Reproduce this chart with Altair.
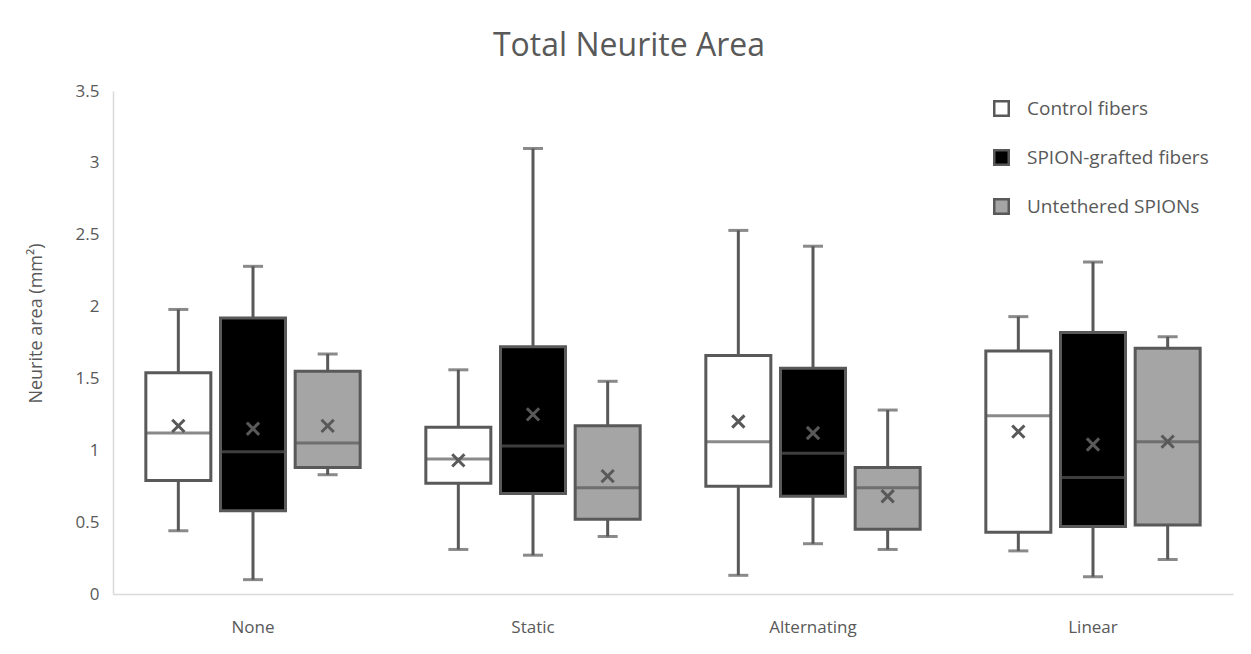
import altair as alt
import pandas as pd

FONT = "Open Sans"
GRAY = "#595959"
AXIS_GRAY = "#d9d9d9"

categories = ["None", "Static", "Alternating", "Linear"]
series = ["Control fibers", "SPION-grafted fibers", "Untethered SPIONs"]
fills = ["#ffffff", "#000000", "#a5a5a5"]

# per series, values for None, Static, Alternating, Linear
whisker_low = {
    "Control fibers": [0.44, 0.31, 0.13, 0.30],
    "SPION-grafted fibers": [0.10, 0.27, 0.35, 0.12],
    "Untethered SPIONs": [0.83, 0.40, 0.31, 0.24],
}
q1 = {
    "Control fibers": [0.79, 0.77, 0.75, 0.43],
    "SPION-grafted fibers": [0.58, 0.70, 0.68, 0.47],
    "Untethered SPIONs": [0.88, 0.52, 0.45, 0.48],
}
median = {
    "Control fibers": [1.12, 0.94, 1.06, 1.24],
    "SPION-grafted fibers": [0.99, 1.03, 0.98, 0.81],
    "Untethered SPIONs": [1.05, 0.74, 0.74, 1.06],
}
q3 = {
    "Control fibers": [1.54, 1.16, 1.66, 1.69],
    "SPION-grafted fibers": [1.92, 1.72, 1.57, 1.82],
    "Untethered SPIONs": [1.55, 1.17, 0.88, 1.71],
}
whisker_high = {
    "Control fibers": [1.98, 1.56, 2.53, 1.93],
    "SPION-grafted fibers": [2.28, 3.10, 2.42, 2.31],
    "Untethered SPIONs": [1.67, 1.48, 1.28, 1.79],
}
mean = {
    "Control fibers": [1.17, 0.93, 1.20, 1.13],
    "SPION-grafted fibers": [1.15, 1.25, 1.12, 1.04],
    "Untethered SPIONs": [1.17, 0.82, 0.68, 1.06],
}
y_ticks = [0, 0.5, 1, 1.5, 2, 2.5, 3, 3.5]

rows = []
for s in series:
    for i, c in enumerate(categories):
        rows.append({
            "category": c, "series": s,
            "low": whisker_low[s][i], "q1": q1[s][i], "median": median[s][i],
            "q3": q3[s][i], "high": whisker_high[s][i], "mean": mean[s][i],
        })
df = pd.DataFrame(rows)

x = alt.X("category:N", sort=categories,
          scale=alt.Scale(paddingInner=0.2, paddingOuter=0.1),
          axis=alt.Axis(title=None, labelAngle=0, labelFontSize=17, labelColor=GRAY,
                        labelFont=FONT, labelPadding=25, domainColor=AXIS_GRAY,
                        domainWidth=1.5, ticks=False))
xo = alt.XOffset("series:N", sort=series, scale=alt.Scale(paddingInner=0, paddingOuter=0))
yscale = alt.Scale(domain=[0, 3.5], nice=False)
yaxis = alt.Axis(values=y_ticks, format=".1~f", title="Neurite area (mm²)",
                 titleFontSize=18, titleColor=GRAY, titleFont=FONT, titleFontWeight="normal",
                 titlePadding=30, titleY=232, labelFontSize=17, labelColor=GRAY, labelFont=FONT,
                 labelPadding=14, ticks=False, grid=False, domainColor=AXIS_GRAY,
                 domainWidth=1.5)

base = alt.Chart(df)

whisk = base.mark_rule(color=GRAY, strokeWidth=3).encode(
    x=x, xOffset=xo, y=alt.Y("low:Q", scale=yscale, axis=yaxis), y2="high:Q")
cap_low = base.mark_tick(color=GRAY, size=20, thickness=3, orient="horizontal").encode(
    x=x, xOffset=xo, y=alt.Y("low:Q", scale=yscale))
cap_high = base.mark_tick(color=GRAY, size=20, thickness=3, orient="horizontal").encode(
    x=x, xOffset=xo, y=alt.Y("high:Q", scale=yscale))
box = base.mark_bar(size=65, stroke=GRAY, strokeWidth=3).encode(
    x=x, xOffset=xo, y=alt.Y("q1:Q", scale=yscale), y2="q3:Q",
    fill=alt.Fill("series:N", sort=series,
                  scale=alt.Scale(domain=series, range=fills),
                  legend=alt.Legend(title=None, orient="none", legendX=879, legendY=8,
                                    symbolType="square", symbolSize=210,
                                    symbolStrokeColor=GRAY, symbolStrokeWidth=2.5,
                                    labelFontSize=19, labelColor=GRAY, labelFont=FONT,
                                    labelLimit=400, labelOffset=16, rowPadding=24)))
med = base.mark_tick(color=GRAY, size=65, thickness=3, orient="horizontal").encode(
    x=x, xOffset=xo, y=alt.Y("median:Q", scale=yscale))
mn = base.mark_point(shape="M-1,-1L1,1M1,-1L-1,1", filled=False, color=GRAY,
                     strokeWidth=3, size=150, opacity=1).encode(
    x=x, xOffset=xo, y=alt.Y("mean:Q", scale=yscale))

chart = alt.layer(whisk, cap_low, cap_high, box, med, mn).properties(
    width=1120, height=503,
    autosize=alt.AutoSizeParams(type="none"),
    padding={"left": 105, "top": 83, "right": 10, "bottom": 50},
    title=alt.Title("Total Neurite Area", fontSize=32, color=GRAY, font=FONT,
                    fontWeight="normal", anchor="middle", dx=-44, offset=19),
).configure(background="white", view=alt.ViewConfig(stroke=None))

chart.save("out.html", embed_options={"renderer": "svg", "actions": False})
